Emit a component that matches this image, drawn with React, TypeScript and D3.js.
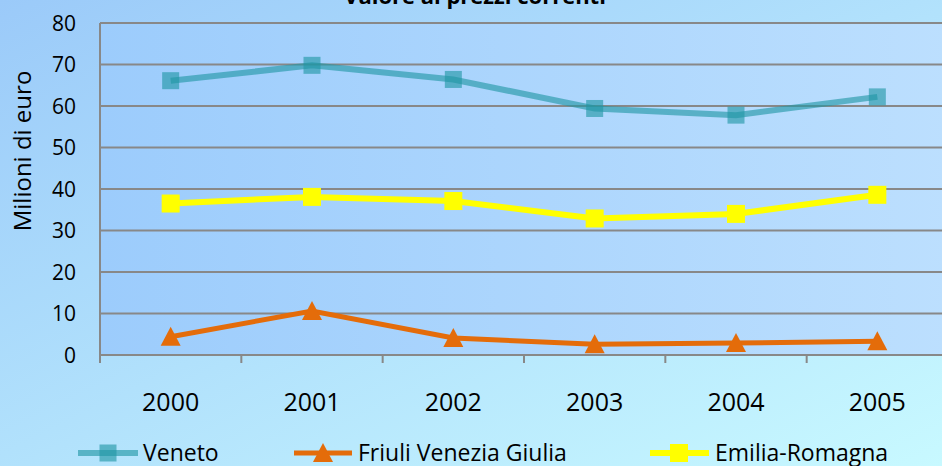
import React from "react";
import * as d3 from "d3";

const years = ["2000", "2001", "2002", "2003", "2004", "2005"];
const veneto = [66.1, 69.8, 66.4, 59.4, 57.8, 62.2];
const friuli = [4.4, 10.6, 4.1, 2.6, 2.9, 3.3];
const emilia = [36.5, 38.1, 37.1, 32.9, 34.0, 38.6];
const yTicks = [0, 10, 20, 30, 40, 50, 60, 70, 80];
const seriesNames = ["Veneto", "Friuli Venezia Giulia", "Emilia-Romagna"];

const W = 942;
const H = 466;
const plot = { left: 100, right: 948, top: 23, bottom: 355 };
const FONT = "'Open Sans', sans-serif";

export default function App() {
  const x = d3.scaleBand<string>().domain(years).range([plot.left, plot.right]).padding(0);
  const y = d3.scaleLinear().domain([0, 80]).range([plot.bottom, plot.top]);
  const cx = (i: number) => (x(years[i]) as number) + x.bandwidth() / 2;
  const line = d3
    .line<number>()
    .x((_, i) => cx(i))
    .y((d) => y(d));

  const tealCol = "rgba(32,150,165,0.62)";
  const orange = "#e46c0a";
  const yellow = "#ffff00";

  const sq = (px: number, py: number, s: number, fill: string, key: string) => (
    <rect key={key} x={px - s / 2} y={py - s / 2} width={s} height={s} fill={fill} />
  );
  const tri = (px: number, py: number, key: string) => {
    const p = d3.path();
    p.moveTo(px, py - 10);
    p.lineTo(px + 10, py + 9);
    p.lineTo(px - 10, py + 9);
    p.closePath();
    return <path key={key} d={p.toString()} fill={orange} />;
  };

  const boundaries = d3.range(years.length + 1).map((i) => plot.left + i * x.bandwidth());

  return (
    <svg
      width={W}
      height={H}
      style={{ position: "fixed", left: 0, top: 0, display: "block" }}
      fontFamily={FONT}
    >
      <defs>
        <linearGradient id="bg" x1="0" y1="0" x2="1" y2="1">
          <stop offset="0" stopColor="#9bcaf9" />
          <stop offset="1" stopColor="#c8f9ff" />
        </linearGradient>
        <linearGradient id="pa" x1="0" y1="0" x2="1" y2="0">
          <stop offset="0" stopColor="#9cccfc" />
          <stop offset="1" stopColor="#bcdffe" />
        </linearGradient>
      </defs>
      <rect x={0} y={0} width={W} height={H} fill="url(#bg)" />
      <rect
        x={plot.left}
        y={plot.top}
        width={plot.right - plot.left}
        height={plot.bottom - plot.top}
        fill="url(#pa)"
      />
      <text x={475} y={4} textAnchor="middle" fontSize={22} fontWeight="bold" fill="#000">
        Valore ai prezzi correnti
      </text>
      {yTicks.map((t) => (
        <g key={t}>
          <line x1={plot.left} x2={plot.right} y1={y(t)} y2={y(t)} stroke="#888" strokeWidth={2} />
          <text x={76} y={y(t)} dy="0.36em" textAnchor="end" fontSize={21} fill="#000">
            {t}
          </text>
        </g>
      ))}
      <line x1={plot.left} x2={plot.left} y1={plot.top} y2={plot.bottom + 8} stroke="#888" strokeWidth={2} />
      {boundaries.map((b, i) => (
        <line key={i} x1={b} x2={b} y1={plot.bottom} y2={plot.bottom + 8} stroke="#888" strokeWidth={2} />
      ))}
      {years.map((yr, i) => (
        <text key={yr} x={cx(i)} y={411} textAnchor="middle" fontSize={25} fill="#000">
          {yr}
        </text>
      ))}
      <text
        transform={`translate(31,151) rotate(-90)`}
        textAnchor="middle"
        fontSize={24}
        fill="#000"
      >
        Milioni di euro
      </text>

      {/* Veneto */}
      <path d={line(veneto) as string} fill="none" stroke={tealCol} strokeWidth={6} />
      {veneto.map((v, i) => sq(cx(i), y(v), 17, tealCol, "v" + i))}

      {/* Friuli */}
      <path d={line(friuli) as string} fill="none" stroke={orange} strokeWidth={5} />
      {friuli.map((v, i) => tri(cx(i), y(v), "f" + i))}

      {/* Emilia */}
      <path d={line(emilia) as string} fill="none" stroke={yellow} strokeWidth={6} />
      {emilia.map((v, i) => sq(cx(i), y(v), 18, yellow, "e" + i))}

      {/* Legend */}
      <g>
        <line x1={78} x2={138} y1={453} y2={453} stroke={tealCol} strokeWidth={6} />
        {sq(108, 453, 17, tealCol, "lv")}
        <text x={143} y={453} dy="0.36em" fontSize={23} fill="#000">
          {seriesNames[0]}
        </text>
        <line x1={294} x2={352} y1={453} y2={453} stroke={orange} strokeWidth={5} />
        {tri(323, 453, "lf")}
        <text x={358} y={453} dy="0.36em" fontSize={23} fill="#000">
          {seriesNames[1]}
        </text>
        <line x1={650} x2={709} y1={453} y2={453} stroke={yellow} strokeWidth={6} />
        {sq(679, 453, 18, yellow, "le")}
        <text x={715} y={453} dy="0.36em" fontSize={23} fill="#000">
          {seriesNames[2]}
        </text>
      </g>
    </svg>
  );
}
